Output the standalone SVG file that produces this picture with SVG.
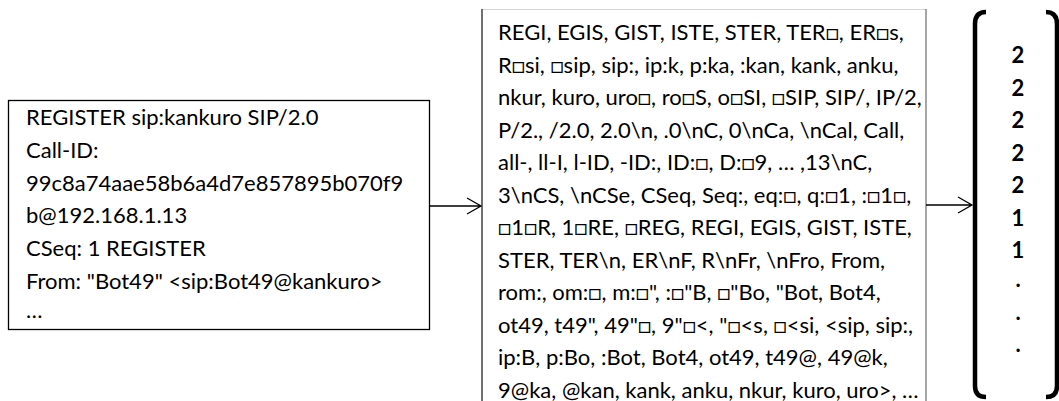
<svg xmlns="http://www.w3.org/2000/svg" width="1059" height="401" viewBox="0 0 1059 401">
<style>
.t{font-family:Lato,"Liberation Sans","DejaVu Sans",sans-serif;font-size:22px;fill:#000}
.n{font-family:Lato,"Liberation Sans",sans-serif;font-size:22px;font-weight:bold;fill:#000;text-anchor:middle}
.box{fill:#fff;stroke:#000;stroke-width:1.3}
.c{fill:none;stroke:#000;stroke-width:1.3}
.br{fill:none;stroke:#000;stroke-width:4.5;stroke-linecap:butt}
</style>
<rect width="1059" height="401" fill="#fff"/>
<g id="sip-message">
<rect class="box" x="8.5" y="100.5" width="421" height="229"/>
<text class="t" x="26" y="125">REGISTER sip:kankuro SIP/2.0</text>
<text class="t" x="26" y="158">Call-ID:</text>
<text class="t" x="26" y="191">99c8a74aae58b6a4d7e857895b070f9</text>
<text class="t" x="26" y="223">b@192.168.1.13</text>
<text class="t" x="26" y="256">CSeq: 1 REGISTER</text>
<text class="t" x="26" y="289">From: "Bot49" &lt;sip:Bot49@kankuro&gt;</text>
<text class="t" x="26" y="318">…</text>
</g>
<g id="ngrams">
<line x1="482" y1="9.5" x2="926" y2="9.5" stroke="#d4d4d4" stroke-width="1"/>
<line x1="482" y1="9" x2="482" y2="401" stroke="#222" stroke-width="1.3"/>
<line x1="926" y1="9" x2="926" y2="401" stroke="#777" stroke-width="1.3"/>
<text class="t" x="498" y="40">REGI, EGIS, GIST, ISTE, STER, TER□, ER□s,</text>
<text class="t" x="498" y="72.5">R□si, □sip, sip:, ip:k, p:ka, :kan, kank, anku,</text>
<text class="t" x="498" y="105">nkur, kuro, uro□, ro□S, o□SI, □SIP, SIP/, IP/2,</text>
<text class="t" x="498" y="137.5">P/2., /2.0, 2.0\n, .0\nC, 0\nCa, \nCal, Call,</text>
<text class="t" x="498" y="170">all-, ll-I, l-ID, -ID:, ID:□, D:□9, … ,13\nC,</text>
<text class="t" x="498" y="202.5">3\nCS, \nCSe, CSeq, Seq:, eq:□, q:□1, :□1□,</text>
<text class="t" x="498" y="235">□1□R, 1□RE, □REG, REGI, EGIS, GIST, ISTE,</text>
<text class="t" x="498" y="267.5">STER, TER\n, ER\nF, R\nFr, \nFro, From,</text>
<text class="t" x="498" y="300">rom:, om:□, m:□", :□"B, □"Bo, "Bot, Bot4,</text>
<text class="t" x="498" y="332.5">ot49, t49", 49"□, 9"□&lt;, "□&lt;s, □&lt;si, &lt;sip, sip:,</text>
<text class="t" x="498" y="365">ip:B, p:Bo, :Bot, Bot4, ot49, t49@, 49@k,</text>
<text class="t" x="498" y="397.5">9@ka, @kan, kank, anku, nkur, kuro, uro&gt;, …</text>
</g>
<g id="vector">
<path class="br" d="M986,12 Q975,12 975,24 L975,386 Q975,397 986,397"/>
<path class="br" d="M1046,12 Q1057,12 1057,24 L1057,386 Q1057,397 1046,397"/>
<text class="n" x="1018" y="63">2</text>
<text class="n" x="1018" y="95.5">2</text>
<text class="n" x="1018" y="128">2</text>
<text class="n" x="1018" y="160.5">2</text>
<text class="n" x="1018" y="193">2</text>
<text class="n" x="1018" y="225.5">1</text>
<text class="n" x="1018" y="258">1</text>
<text class="n" x="1018" y="287">.</text>
<text class="n" x="1018" y="319.5">.</text>
<text class="n" x="1018" y="352">.</text>
</g>
<g id="connectors">
<path class="c" d="M430,206 L481,206 M467,198 L481,206 L467,214"/>
<path class="c" d="M926,205 L972,205 M958,197 L972,205 L958,213"/>
</g>
</svg>
